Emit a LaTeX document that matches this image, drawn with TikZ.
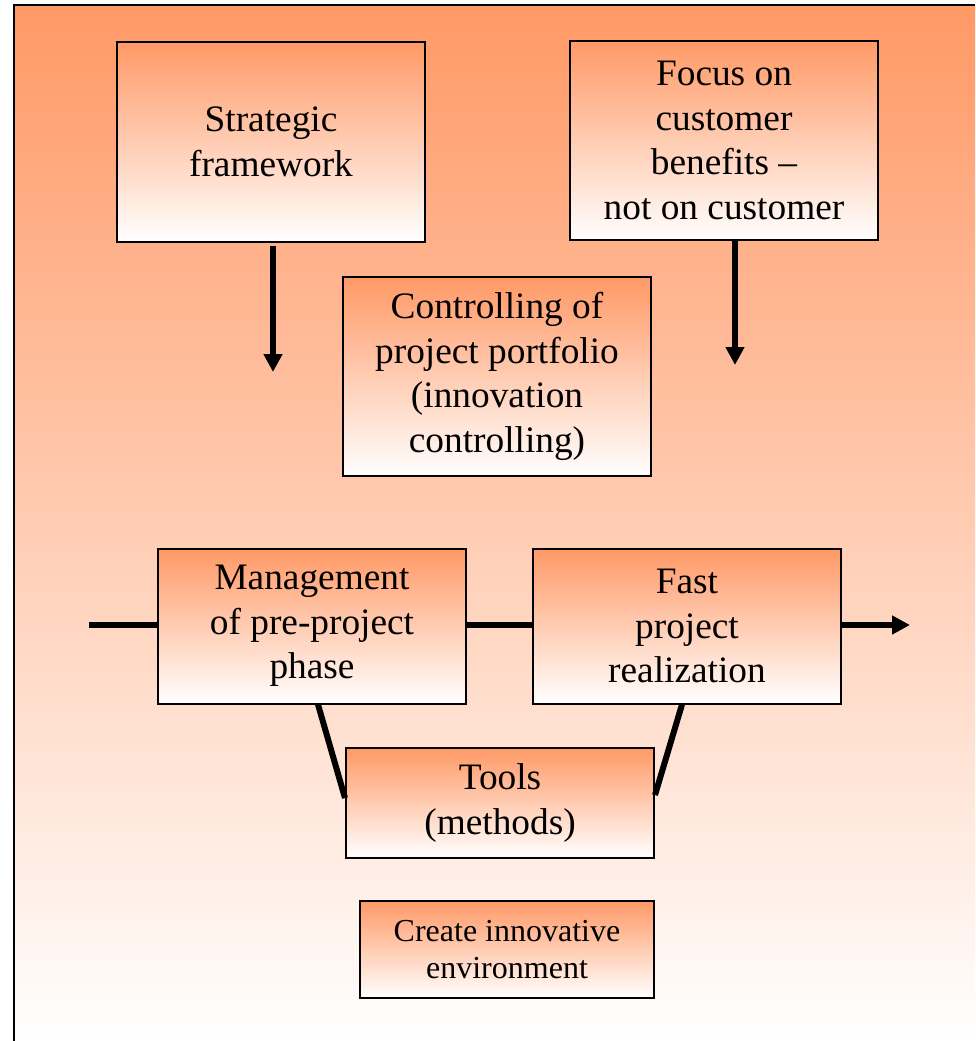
\documentclass[tikz,border=0pt]{standalone}
\usepackage{fontspec}
\setmainfont{Liberation Serif}
\usetikzlibrary{arrows.meta,calc}

\definecolor{peach}{RGB}{255,153,102}

\tikzset{
  box/.style={draw,line width=1.5pt,top color=peach,bottom color=white,
    align=center,inner sep=0pt,minimum width=231pt,font=\fontsize{28}{33.5}\selectfont},
  smallbox/.style={box,minimum width=220.5pt,font=\fontsize{24}{27.5}\selectfont},
  link/.style={line width=4.5pt},
  flow/.style={line width=4.5pt,-{Triangle[length=13.5pt,width=13.5pt]}}
}

\begin{document}
\begin{tikzpicture}[x=0.75pt,y=-0.75pt]
  \useasboundingbox (0,0) rectangle (975,1041);
  \fill[top color=peach,bottom color=white] (14,5) rectangle (975,1041);
  \draw[line width=2.2pt] (14,1041) -- (14,5) -- (975,5);

  \node[box,minimum height=150pt] (strat) at (271,142) {Strategic\\framework};
  \node[box,minimum height=149.25pt] (focus) at (724,140.5) {Focus on\\customer\\benefits --\\not on customer};
  \node[box,minimum height=149.25pt] (ctrl) at (497,376.5) {Controlling of\\project portfolio\\(innovation\\controlling)};
  \node[box,minimum height=116.25pt] (mgmt) at (312,626) {Management\\of pre-project\\phase};
  \node[box,minimum height=116.25pt] (fast) at (687,626) {Fast\\project\\realization};
  \node[box,minimum height=82.5pt] (tools) at (500,803) {Tools\\(methods)};
  \node[smallbox,minimum height=72.75pt] (env) at (507,949.5) {Create innovative\\environment};

  \coordinate (stratend) at (273,372);
  \coordinate (focusend) at (735,365);
  \coordinate (flowin) at (89,625);
  \coordinate (flowout) at (910,625);

  \draw[flow] ($(strat.south)+(2,3)$) -- (stratend);
  \draw[flow] (focus.south -| focusend) -- (focusend);
  \draw[link] (flowin) -- (flowin -| mgmt.west);
  \draw[link] ($(mgmt.east)+(0,-1)$) -- ($(fast.west)+(0,-1)$);
  \draw[flow] (fast.east |- flowout) -- (flowout);
  \draw[link] ($(mgmt.south)+(6,0)$) -- ($(tools.west)+(0,-5)$);
  \draw[link] ($(fast.south)+(-5,0)$) -- ($(tools.east)+(0,-8)$);
\end{tikzpicture}
\end{document}
